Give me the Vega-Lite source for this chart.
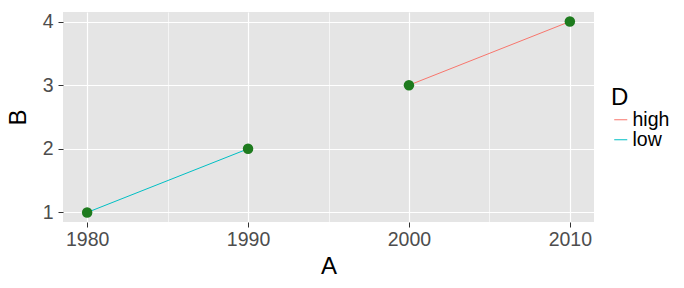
{
  "$schema": "https://vega.github.io/schema/vega-lite/v6.json",
  "autosize": {"type": "none"},
  "padding": {"left": 63, "top": 12, "right": 90, "bottom": 66},
  "width": 531,
  "height": 210,
  "background": "white",
  "config": {
    "font": "Liberation Sans",
    "view": {"fill": "#E5E5E5", "stroke": null},
    "axis": {
      "domain": false,
      "gridColor": "white",
      "tickColor": "#333333",
      "tickSize": 5,
      "labelColor": "#4D4D4D",
      "labelFontSize": 19.5,
      "labelFont": "Liberation Sans",
      "titleFont": "Liberation Sans",
      "titleFontSize": 24,
      "titleFontWeight": "normal",
      "titleColor": "black"
    },
    "legend": {
      "titleFont": "Liberation Sans",
      "titleFontSize": 24,
      "titleFontWeight": "normal",
      "labelFont": "Liberation Sans",
      "labelFontSize": 19.5,
      "labelColor": "black"
    }
  },
  "data": {
    "values": [
      {"A": 1980, "B": 1, "D": "low"},
      {"A": 1990, "B": 2, "D": "low"},
      {"A": 2000, "B": 3, "D": "high"},
      {"A": 2010, "B": 4, "D": "high"}
    ]
  },
  "encoding": {
    "x": {
      "field": "A",
      "type": "quantitative",
      "scale": {"domain": [1978.5, 2011.5], "nice": false, "zero": false},
      "axis": {
        "values": [1980, 1985, 1990, 1995, 2000, 2005, 2010],
        "format": "d",
        "labelExpr": "datum.value % 10 == 0 ? datum.label : ''",
        "gridWidth": {"condition": {"test": "datum.value % 10 != 0", "value": 0.6}, "value": 1.2},
        "tickOpacity": {"condition": {"test": "datum.value % 10 != 0", "value": 0}, "value": 1},
        "labelPadding": 3,
        "titlePadding": 6
      }
    },
    "y": {
      "field": "B",
      "type": "quantitative",
      "scale": {"domain": [0.85, 4.15], "nice": false, "zero": false},
      "axis": {
        "values": [1, 1.5, 2, 2.5, 3, 3.5, 4],
        "format": "d",
        "labelExpr": "datum.value % 1 == 0 ? datum.label : ''",
        "gridWidth": {"condition": {"test": "datum.value % 1 != 0", "value": 0.6}, "value": 1.2},
        "tickOpacity": {"condition": {"test": "datum.value % 1 != 0", "value": 0}, "value": 1},
        "labelPadding": 5,
        "titlePadding": 12
      }
    }
  },
  "layer": [
    {
      "mark": {"type": "line", "strokeWidth": 1},
      "encoding": {
        "color": {
          "field": "D",
          "type": "nominal",
          "scale": {"domain": ["high", "low"], "range": ["#F8766D", "#00BFC4"]},
          "legend": {
            "orient": "none",
            "legendX": 548,
            "legendY": 74,
            "symbolType": "stroke",
            "symbolSize": 170,
            "symbolStrokeWidth": 1,
            "rowPadding": -3,
            "labelOffset": 2,
            "titlePadding": 0
          }
        }
      }
    },
    {
      "mark": {"type": "point", "filled": true, "size": 110, "color": "#1E7B1E", "opacity": 1}
    }
  ]
}
